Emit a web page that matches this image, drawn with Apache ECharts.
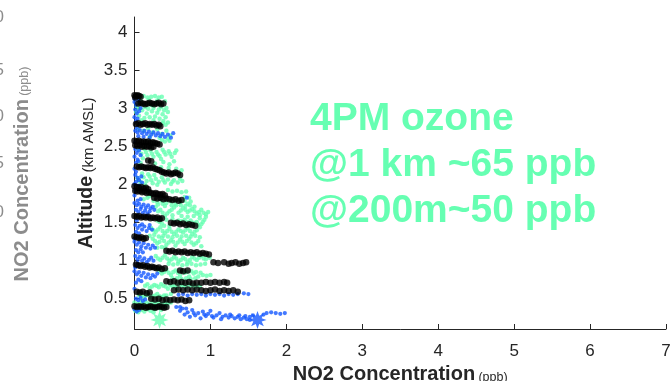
<!DOCTYPE html>
<html><head><meta charset="utf-8">
<script src="https://cdn.jsdelivr.net/npm/echarts@6/dist/echarts.min.js"></script>
<style>html,body{margin:0;padding:0;background:#fff}#c{width:671px;height:381px}</style>
</head><body><div id="c"></div>
<script>
const xTicks = [0,1,2,3,4,5,6,7];
const yTicks = [0.5,1,1.5,2,2.5,3,3.5,4];
const annotation = ['4PM ozone','@1 km ~65 ppb','@200m~50 ppb'];

const greenPts = [
[0.06,3.15],[0.12,3.16],[0.17,3.14],[0.22,3.15],[0.27,3.16],[0.32,3.14],[0.36,3.15],
[0.03,3.02],[0.08,3.10],[0.14,3.01],[0.19,3.11],[0.25,3.00],[0.30,3.10],[0.35,3.01],[0.40,3.09],[0.42,3.00],
[0.10,3.05],[0.22,3.04],[0.33,3.05],[0.05,2.99],[0.18,2.99],[0.32,2.98],[0.39,2.97],
[0.02,2.95],[0.06,2.90],[0.10,2.97],[0.13,2.87],[0.16,2.93],[0.20,2.88],[0.23,2.96],[0.27,2.89],[0.30,2.94],[0.33,2.86],[0.37,2.92],[0.41,2.88],[0.44,2.95],[0.09,2.84],[0.25,2.84],[0.38,2.83],
[0.37,2.80],[0.41,2.78],[0.44,2.81],
[0.05,2.72],[0.12,2.70],[0.18,2.73],[0.24,2.68],[0.30,2.72],[0.36,2.66],[0.42,2.70],[0.47,2.64],[0.20,2.62],[0.33,2.61],[0.44,2.60],
[0.36,2.58],[0.40,2.56],[0.46,2.57],
[0.05,2.45],[0.09,2.40],[0.13,2.46],[0.17,2.38],[0.21,2.44],[0.25,2.36],[0.29,2.42],[0.33,2.37],[0.37,2.45],[0.41,2.39],[0.45,2.43],[0.49,2.36],[0.53,2.41],[0.11,2.34],[0.35,2.33],
[0.15,2.42],[0.23,2.40],[0.31,2.39],[0.39,2.42],[0.47,2.40],[0.55,2.44],
[0.08,2.28],[0.27,2.27],[0.38,2.29],[0.46,2.26],[0.52,2.30],
[0.35,2.22],[0.45,2.21],[0.55,2.20],[0.62,2.18],[0.10,2.14],[0.18,2.13],[0.26,2.12],
[0.04,2.08],[0.08,2.02],[0.12,2.09],[0.16,2.04],[0.20,2.10],[0.24,2.01],[0.28,2.07],[0.32,2.03],[0.36,2.09],[0.40,2.02],[0.44,2.06],[0.48,2.00],[0.52,2.05],[0.57,2.02],[0.60,2.07],[0.14,1.99],[0.30,1.99],
[0.06,2.05],[0.22,2.05],[0.38,2.05],[0.50,2.03],[0.63,2.04],
[0.44,1.92],[0.50,1.90],[0.56,1.91],[0.62,1.89],[0.68,1.90],[0.66,1.83],[0.72,1.82],[0.17,1.82],
[0.20,1.84],[0.25,1.78],[0.30,1.76],[0.36,1.78],[0.42,1.75],[0.48,1.77],[0.54,1.74],[0.60,1.76],[0.66,1.78],[0.70,1.74],[0.74,1.77],[0.12,1.80],
[0.31,1.73],[0.37,1.74],[0.49,1.72],[0.61,1.72],[0.67,1.71],[0.73,1.72],[0.79,1.70],
[0.28,1.70],[0.34,1.66],[0.40,1.71],[0.46,1.64],[0.52,1.69],[0.58,1.62],[0.64,1.68],[0.70,1.63],[0.76,1.67],[0.82,1.61],[0.88,1.66],[0.94,1.60],[0.97,1.63],[0.43,1.61],[0.55,1.72],
[0.31,1.64],[0.37,1.62],[0.49,1.66],[0.61,1.65],[0.67,1.66],[0.73,1.65],[0.79,1.64],[0.85,1.63],[0.91,1.62],
[0.40,1.58],[0.50,1.59],[0.62,1.58],[0.70,1.57],[0.78,1.58],[0.86,1.59],[0.94,1.57],
[0.30,1.52],[0.36,1.48],[0.42,1.53],[0.46,1.45],[0.50,1.54],[0.58,1.52],[0.66,1.53],[0.74,1.52],[0.82,1.50],[0.88,1.47],[0.92,1.53],[0.86,1.55],
[0.33,1.50],[0.39,1.45],[0.54,1.50],[0.62,1.51],[0.70,1.50],[0.78,1.49],[0.84,1.46],[0.90,1.50],
[0.22,1.42],[0.28,1.37],[0.34,1.43],[0.40,1.35],[0.46,1.41],[0.52,1.34],[0.58,1.40],[0.64,1.36],[0.70,1.42],[0.76,1.34],[0.82,1.39],[0.86,1.43],
[0.25,1.39],[0.31,1.40],[0.37,1.38],[0.43,1.38],[0.49,1.37],[0.55,1.37],[0.61,1.38],[0.67,1.39],[0.73,1.38],[0.79,1.37],
[0.20,1.32],[0.26,1.33],[0.32,1.31],[0.38,1.32],[0.44,1.31],[0.50,1.30],[0.56,1.32],[0.62,1.31],[0.68,1.32],[0.74,1.31],[0.80,1.32],[0.86,1.30],
[0.24,1.28],[0.30,1.22],[0.36,1.29],[0.42,1.20],[0.48,1.26],[0.54,1.19],[0.60,1.27],[0.66,1.21],[0.72,1.28],[0.78,1.20],[0.84,1.25],[0.88,1.18],
[0.27,1.25],[0.33,1.24],[0.39,1.25],[0.45,1.23],[0.51,1.24],[0.57,1.23],[0.63,1.24],[0.69,1.25],[0.75,1.23],[0.81,1.22],
[0.30,1.16],[0.36,1.17],[0.40,1.16],
[0.28,1.05],[0.34,1.00],[0.40,1.06],[0.46,0.99],[0.52,1.04],[0.58,0.98],[0.64,1.03],[0.70,0.97],[0.76,1.04],[0.82,1.00],[0.88,1.05],[0.94,1.01],[0.99,1.03],
[0.31,1.02],[0.37,1.03],[0.43,1.02],[0.49,1.01],[0.55,1.02],[0.61,1.00],[0.67,1.01],[0.73,1.00],[0.79,1.02],[0.85,1.03],[0.91,1.02],
[0.45,0.95],[0.51,0.94],[0.57,0.95],[0.63,0.93],[0.69,0.94],[0.75,0.95],[0.81,0.93],[0.87,0.94],[0.93,0.95],
[0.30,0.88],[0.36,0.82],[0.42,0.87],[0.48,0.80],[0.54,0.86],[0.60,0.79],[0.66,0.83],[0.72,0.78],[0.78,0.82],[0.84,0.78],[0.90,0.80],[0.95,0.79],[1.00,0.80],[0.50,0.76],
[0.33,0.85],[0.39,0.84],[0.45,0.83],[0.51,0.84],[0.57,0.83],[0.63,0.85],[0.69,0.84],[0.75,0.85],[0.81,0.84],[0.87,0.83],
[0.56,0.76],[0.62,0.75],[0.68,0.76],[0.74,0.75],[0.80,0.76],
[0.14,0.66],[0.20,0.63],[0.26,0.67],[0.32,0.64],[0.38,0.66],[0.44,0.62],[0.50,0.65],[0.56,0.63],[0.62,0.66],[0.68,0.64],[0.74,0.66],[0.80,0.64],[0.86,0.65],
[0.17,0.68],[0.23,0.65],[0.29,0.66],[0.35,0.68],[0.41,0.65],[0.47,0.67],[0.53,0.66],[0.59,0.68],[0.65,0.67],[0.71,0.68],[0.77,0.67],[0.83,0.66],
[0.06,0.53],[0.12,0.51],[0.18,0.54],[0.24,0.52],[0.30,0.55],[0.36,0.51],[0.42,0.53],[0.48,0.55],
[0.09,0.52],[0.15,0.53],[0.21,0.51],[0.27,0.53],[0.33,0.52],[0.39,0.53],
[0.00,0.44],[0.04,0.42],[0.08,0.45],[0.12,0.43],[0.16,0.44],[0.20,0.42],[0.24,0.45],[0.28,0.43],[0.32,0.44],[0.36,0.42],[0.40,0.44],[0.44,0.43],[0.48,0.44],
[0.02,0.40],[0.10,0.41],[0.18,0.40],[0.26,0.41],[0.34,0.40],[0.42,0.41],
[0.01,0.33],[0.05,0.31],[0.09,0.34],[0.13,0.32],[0.17,0.35],[0.21,0.33],[0.25,0.31],
[0.03,0.36],[0.11,0.36],[0.19,0.37],[0.27,0.35],[0.35,0.34]
];

const bluePts = [
[0.00,3.12],[0.00,3.08],[0.02,3.04],[0.01,2.98],[0.03,2.93],[0.00,2.88],[0.02,2.83],
[0.06,2.96],[0.04,2.86],[0.08,3.00],[0.05,3.10],
[0.01,2.70],[0.04,2.68],[0.07,2.71],[0.10,2.67],[0.13,2.70],[0.16,2.66],[0.19,2.69],[0.22,2.65],[0.25,2.68],[0.28,2.64],[0.31,2.67],[0.34,2.63],[0.37,2.66],[0.40,2.62],[0.44,2.65],[0.48,2.61],[0.05,2.63],[0.12,2.62],[0.20,2.61],[0.03,2.74],[0.51,2.67],
[0.01,2.55],[0.01,2.46],[0.03,2.41],[0.00,2.36],[0.04,2.32],[0.02,2.28],[0.00,2.20],[0.02,2.16],
[0.06,2.44],[0.08,2.38],[0.05,2.30],
[0.01,2.12],[0.04,2.08],[0.02,2.03],[0.06,2.05],[0.09,2.10],[0.00,2.00],[0.01,1.92],[0.00,1.85],[0.06,1.98],[0.10,2.02],
[0.00,1.75],[0.03,1.72],[0.06,1.74],[0.09,1.70],[0.12,1.73],[0.15,1.69],[0.18,1.72],[0.21,1.68],[0.02,1.66],[0.05,1.63],[0.08,1.67],[0.11,1.62],[0.14,1.65],[0.17,1.61],[0.20,1.64],[0.69,1.82],
[0.24,1.70],[0.26,1.66],[0.04,1.78],[0.08,1.80],
[0.03,1.52],[0.01,1.46],[0.04,1.42],[0.07,1.45],[0.10,1.40],[0.13,1.44],[0.16,1.38],[0.02,1.37],[0.06,1.35],[0.19,1.42],
[0.10,1.47],[0.20,1.46],[0.23,1.40],
[0.00,1.28],[0.00,1.24],[0.03,1.20],[0.06,1.23],[0.09,1.18],[0.12,1.22],[0.15,1.16],[0.18,1.20],[0.21,1.15],[0.02,1.13],[0.05,1.10],[0.08,1.14],
[0.24,1.19],[0.27,1.16],[0.11,1.10],
[0.01,1.05],[0.04,1.01],[0.07,1.04],[0.10,0.99],[0.13,1.02],[0.16,0.97],[0.19,1.00],[0.01,0.90],
[0.22,1.03],[0.25,0.99],[0.04,0.96],
[0.00,0.85],[0.03,0.81],[0.06,0.84],[0.09,0.79],[0.12,0.83],[0.15,0.77],[0.18,0.81],[0.21,0.76],[0.24,0.80],[0.02,0.70],[0.00,0.62],
[0.27,0.78],[0.30,0.82],[0.05,0.74],[0.09,0.72],
[0.58,0.54],[0.64,0.55],[0.70,0.53],[0.76,0.55],[0.82,0.54],[0.88,0.55],[0.94,0.53],[1.00,0.55],[1.06,0.54],[1.12,0.55],[1.18,0.53],[1.24,0.55],[1.30,0.54],[1.36,0.55],[1.44,0.56],[1.50,0.55],
[0.02,0.49],[0.05,0.47],[0.08,0.50],[0.11,0.46],[0.14,0.48],
[0.00,0.35],[0.03,0.32],[0.06,0.34],
[0.55,0.38],[0.60,0.33],[0.63,0.36],[0.66,0.28],[0.70,0.31],[0.73,0.25],[0.76,0.34],[0.80,0.27],[0.84,0.30],[0.87,0.23],[0.90,0.32],[0.94,0.26],[0.97,0.29],[1.00,0.33],[1.04,0.24],[1.08,0.27],[1.12,0.30],[1.16,0.25],[1.20,0.27],[1.24,0.24],[1.28,0.26],[1.32,0.23],[1.36,0.25],[1.40,0.22],[1.44,0.24],[1.48,0.22],[1.52,0.25],[1.56,0.27],[1.70,0.28],[1.74,0.30],[1.80,0.31],[1.86,0.30],[1.92,0.29],[1.98,0.30],
[0.60,0.38],[0.68,0.36],[0.78,0.30],[0.92,0.28],[1.02,0.26],[1.14,0.22],[1.26,0.28],[1.38,0.27],[1.46,0.26],[1.52,0.21]
];

const blackPts = [
[0.00,3.17],[0.02,3.16],[0.04,3.17],[0.06,3.16],[0.08,3.15],[0.01,3.14],
[0.05,3.06],[0.08,3.07],[0.11,3.06],[0.14,3.05],[0.17,3.06],[0.20,3.07],[0.23,3.06],[0.26,3.05],[0.29,3.06],[0.32,3.07],[0.35,3.05],[0.38,3.06],
[0.02,2.79],[0.05,2.80],[0.08,2.78],[0.11,2.79],[0.14,2.80],[0.17,2.78],[0.20,2.79],[0.23,2.78],[0.26,2.79],[0.29,2.77],[0.32,2.78],[0.34,2.76],
[0.00,2.57],[0.03,2.56],[0.06,2.57],[0.09,2.55],[0.12,2.56],[0.15,2.55],[0.18,2.56],[0.21,2.54],[0.24,2.55],[0.27,2.54],[0.30,2.53],[0.33,2.52],[0.01,2.51],[0.04,2.50],[0.07,2.51],[0.10,2.49],[0.13,2.50],[0.16,2.49],[0.19,2.50],[0.22,2.48],[0.25,2.49],
[0.18,2.31],[0.22,2.30],
[0.03,2.23],[0.06,2.22],[0.09,2.23],[0.12,2.22],[0.15,2.21],[0.18,2.22],[0.21,2.21],[0.24,2.22],[0.27,2.20],[0.30,2.19],
[0.33,2.18],[0.36,2.16],[0.39,2.15],[0.42,2.14],[0.45,2.15],[0.48,2.13],[0.51,2.14],[0.54,2.15],[0.57,2.14],[0.60,2.12],
[0.00,1.97],[0.03,1.96],[0.06,1.95],[0.09,1.96],[0.12,1.94],[0.15,1.95],[0.18,1.93],[0.01,1.91],[0.04,1.90],[0.07,1.91],[0.10,1.89],[0.13,1.90],[0.16,1.88],[0.19,1.89],[0.22,1.88],[0.25,1.87],[0.28,1.88],[0.31,1.87],[0.34,1.86],[0.37,1.87],[0.40,1.85],
[0.26,1.82],[0.30,1.81],[0.34,1.82],[0.38,1.80],[0.42,1.81],[0.46,1.80],[0.50,1.79],[0.54,1.80],[0.58,1.78],[0.62,1.79],
[0.00,1.58],[0.03,1.57],[0.06,1.58],[0.09,1.56],[0.12,1.57],[0.15,1.56],[0.18,1.57],[0.21,1.55],[0.24,1.56],[0.27,1.55],[0.30,1.56],[0.33,1.54],[0.36,1.55],
[0.48,1.49],[0.52,1.48],[0.56,1.49],[0.60,1.47],[0.64,1.48],[0.68,1.46],[0.72,1.47],[0.76,1.46],[0.80,1.45],
[0.00,1.31],[0.03,1.30],[0.06,1.29],[0.09,1.30],[0.12,1.28],[0.15,1.29],
[0.42,1.12],[0.46,1.11],[0.50,1.12],[0.54,1.10],[0.58,1.11],[0.62,1.10],[0.66,1.11],[0.70,1.09],[0.74,1.10],[0.78,1.09],[0.82,1.10],[0.86,1.08],[0.90,1.09],[0.94,1.08],[0.98,1.07],
[1.04,0.97],[1.10,0.96],[1.18,0.97],[1.24,0.95],[1.28,0.96],[1.33,0.97],[1.38,0.95],[1.43,0.96],[1.47,0.97],
[0.02,0.94],[0.05,0.93],[0.08,0.92],[0.11,0.93],[0.14,0.91],[0.17,0.92],[0.20,0.90],[0.23,0.91],[0.26,0.90],[0.29,0.89],[0.32,0.90],[0.36,0.88],[0.40,0.89],
[0.60,0.86],[0.64,0.85],[0.70,0.86],
[0.42,0.72],[0.47,0.71],[0.52,0.72],[0.57,0.70],[0.62,0.71],[0.67,0.70],[0.72,0.71],[0.77,0.69],[0.82,0.70],[0.88,0.70],[0.94,0.71],[1.00,0.70],[1.06,0.71],[1.12,0.70],[1.18,0.71],[1.22,0.70],
[0.52,0.60],[0.58,0.61],[0.64,0.60],[0.70,0.61],[0.76,0.60],[0.82,0.61],[0.88,0.60],[0.94,0.59],[1.00,0.60],[1.06,0.61],[1.12,0.59],[1.18,0.60],[1.24,0.59],[1.30,0.60],[1.36,0.58],
[0.03,0.58],[0.07,0.57],[0.11,0.58],[0.16,0.56],[0.20,0.57],
[0.22,0.49],[0.27,0.48],[0.32,0.49],[0.37,0.47],[0.42,0.48],[0.47,0.47],[0.52,0.48],[0.57,0.47],[0.62,0.48],[0.67,0.46],[0.72,0.47],
[0.00,0.39],[0.03,0.38],[0.06,0.39],[0.09,0.38],[0.12,0.39],[0.15,0.37],[0.18,0.38],[0.21,0.39],[0.24,0.38],[0.27,0.37],[0.30,0.38],[0.33,0.39],[0.36,0.38],[0.39,0.37],[0.42,0.38]
];

const greenMean = [[0.33,0.21]];
const blueMean = [[1.62,0.21]];

const GREEN = '#66ffb2', BLUE = '#1457ff', AX = '#262626', GHOST = '#8c8c8c';
const STAR = 'path://M20 10 L14.62 11.91 L17.07 17.07 L11.91 14.62 L10 20 L8.09 14.62 L2.93 17.07 L5.38 11.91 L0 10 L5.38 8.09 L2.93 2.93 L8.09 5.38 L10 0 L11.91 5.38 L17.07 2.93 L14.62 8.09 Z';
const FONT = 'Liberation Sans, Arial, Helvetica, sans-serif';

const chart = echarts.init(document.getElementById('c'), null, {renderer:'canvas'});
chart.setOption({
  animation:false,
  backgroundColor:'#fff',
  grid:{left:134.5, right:5, top:17, bottom:52, containLabel:false, outerBoundsMode:'none'},
  xAxis:{
    type:'value', min:0, max:7, interval:1,
    name:'{b|NO2 Concentration} {s|(ppb)}', nameLocation:'middle', nameGap:28,
    nameTextStyle:{rich:{b:{fontFamily:FONT,fontWeight:'bold',fontSize:20,color:AX},s:{fontFamily:FONT,fontSize:12.5,color:AX,padding:[6,0,0,0]}}},
    axisLine:{lineStyle:{color:AX,width:1}},
    axisTick:{inside:true,length:5,lineStyle:{color:AX}},
    axisLabel:{color:AX,fontFamily:FONT,fontSize:17,margin:14,customValues:xTicks},
    splitLine:{show:false}
  },
  yAxis:{
    type:'value', min:0.09, max:4.2,
    name:'{b|Altitude} {s|(km AMSL)}', nameLocation:'middle', nameGap:38, nameRotate:90, nameMoveOverlap:false,
    nameTextStyle:{rich:{b:{fontFamily:FONT,fontWeight:'bold',fontSize:19.5,color:AX},s:{fontFamily:FONT,fontSize:15,color:AX,padding:[5,0,0,0]}}},
    axisLine:{show:true,lineStyle:{color:AX,width:1}},
    axisTick:{show:true,inside:true,length:5,lineStyle:{color:AX},customValues:yTicks},
    axisLabel:{color:AX,fontFamily:FONT,fontSize:17,margin:7,customValues:yTicks},
    splitLine:{show:false}
  },
  series:[
    {type:'scatter',data:greenPts,symbol:'circle',symbolSize:4.5,itemStyle:{color:GREEN},silent:true},
    {type:'scatter',data:bluePts,symbol:'circle',symbolSize:4.2,itemStyle:{color:BLUE},silent:true},
    {type:'scatter',data:blackPts,symbol:'circle',symbolSize:6.5,itemStyle:{color:'#000'},silent:true},
    {type:'scatter',data:greenMean,symbol:STAR,symbolSize:18,itemStyle:{color:GREEN},silent:true},
    {type:'scatter',data:blueMean,symbol:STAR,symbolSize:18,itemStyle:{color:BLUE},silent:true}
  ],
  graphic:[
    {type:'text',left:310,top:96,style:{text:annotation.join('\n'),fill:GREEN,font:'bold 39px '+FONT,lineHeight:46}},
    {type:'text',x:22,y:174,rotation:Math.PI/2,style:{text:'{b|NO2 Concentration} {s|(ppb)}',align:'center',verticalAlign:'middle',
      rich:{b:{fontFamily:FONT,fontWeight:'bold',fontSize:20,fill:GHOST},s:{fontFamily:FONT,fontSize:12.5,fill:GHOST,padding:[6,0,0,0]}}}},
    {type:'text',x:4,y:17,style:{text:'0',align:'right',verticalAlign:'middle',font:'17px '+FONT,fill:GHOST}},
    {type:'text',x:4,y:70,style:{text:'5',align:'right',verticalAlign:'middle',font:'17px '+FONT,fill:GHOST}},
    {type:'text',x:4,y:116,style:{text:'0',align:'right',verticalAlign:'middle',font:'17px '+FONT,fill:GHOST}},
    {type:'text',x:4,y:163,style:{text:'5',align:'right',verticalAlign:'middle',font:'17px '+FONT,fill:GHOST}},
    {type:'text',x:4,y:212,style:{text:'0',align:'right',verticalAlign:'middle',font:'17px '+FONT,fill:GHOST}}
  ]
});
</script></body></html>
